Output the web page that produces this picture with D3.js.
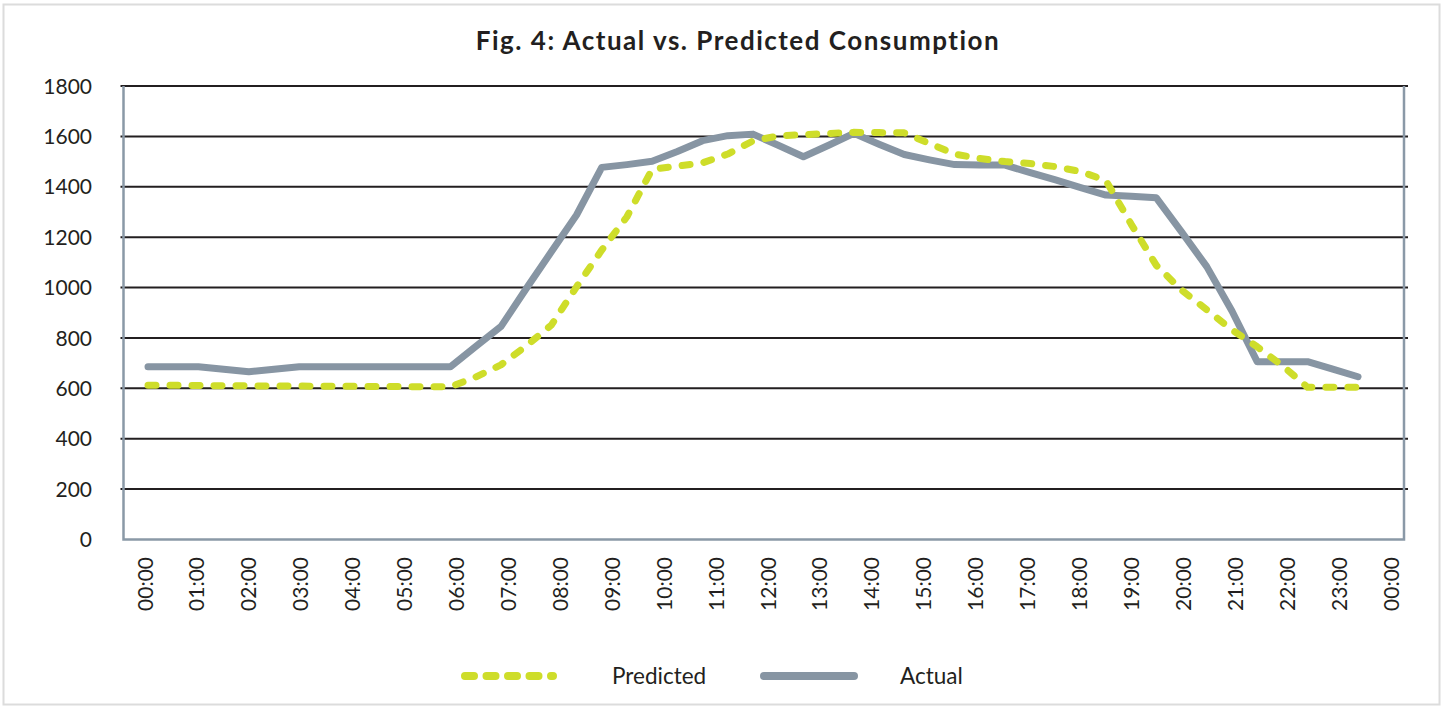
<!DOCTYPE html>
<html>
<head>
<meta charset="utf-8">
<script src="https://cdn.jsdelivr.net/npm/d3@7"></script>
<style>
  body { margin: 0; background: #fff; }
  text { font-family: Lato, "Open Sans", sans-serif; fill: #231f20; }
</style>
</head>
<body>
<svg></svg>
<script>
// half-hourly readings
let times = ["00:00","00:30","01:00","01:30","02:00","02:30","03:00","03:30","04:00","04:30",
    "05:00","05:30","06:00","06:30","07:00","07:30","08:00","08:30","09:00","09:30",
    "10:00","10:30","11:00","11:30","12:00","12:30","13:00","13:30","14:00","14:30",
    "15:00","15:30","16:00","16:30","17:00","17:30","18:00","18:30","19:00","19:30",
    "20:00","20:30","21:00","21:30","22:00","22:30","23:00","23:30","24:00"];

let actual = [686, 686, 686, 676, 666, 676, 686, 686, 686, 686,
    686, 686, 686, 766, 845, 995, 1142, 1288, 1477, 1488,
    1501, 1540, 1583, 1603, 1609, 1565, 1519, 1565, 1612, 1569,
    1528, 1507, 1488, 1486, 1486, 1456, 1427, 1397, 1367, 1362,
    1356, 1221, 1083, 907, 706, 706, 706, 676, 646];

let predicted = [612, 612, 611, 610, 610, 609, 609, 608, 608, 607,
    607, 606, 606, 645, 693, 768, 851, 1003, 1149, 1281,
    1470, 1482, 1495, 1530, 1582, 1602, 1607, 1611, 1616, 1615,
    1614, 1572, 1530, 1512, 1500, 1492, 1480, 1460, 1425, 1252,
    1088, 990, 912, 832, 765, 690, 604, 604, 604];

let tickLabels = ["00:00","01:00","02:00","03:00","04:00","05:00","06:00","07:00","08:00",
    "09:00","10:00","11:00","12:00","13:00","14:00","15:00","16:00","17:00","18:00",
    "19:00","20:00","21:00","22:00","23:00","00:00"];

let yTicks = [0, 200, 400, 600, 800, 1000, 1200, 1400, 1600, 1800];

let svg = d3.select("svg").attr("width", 1448).attr("height", 709);

const axisGrey = "#8a99a7";
const actualColor = "#8795a3";
const predColor = "#cedd2a";

// outer frame
svg.append("rect")
    .attr("x", 3.5).attr("y", 4.5)
    .attr("width", 1436).attr("height", 700)
    .attr("fill", "#fff")
    .attr("stroke", "#dcdcdc")
    .attr("stroke-width", 2);

let plotL = 123.5, plotR = 1404, plotT = 86, plotB = 539.5;

let y = d3.scaleLinear().domain([0, 1800]).range([plotB, plotT]);
let x = d3.scalePoint().domain(times).range([148, 1358]);
let xLab = d3.scalePoint().domain(d3.range(tickLabels.length)).range([145, 1391]);

// gridlines
svg.append("g")
    .selectAll("line")
    .data(yTicks.filter(d => d > 0))
    .join("line")
    .attr("x1", plotL - 3).attr("x2", plotR + 4)
    .attr("y1", d => y(d)).attr("y2", d => y(d))
    .style("stroke", "#231f20")
    .style("stroke-width", 2);

// plot frame (left, bottom, right)
svg.append("path")
    .attr("d", `M ${plotL} ${plotT} L ${plotL} ${plotB} L ${plotR} ${plotB} L ${plotR} ${plotT}`)
    .attr("fill", "none")
    .style("stroke", axisGrey)
    .style("stroke-width", 2.5);

// y labels
svg.append("g")
    .selectAll("text")
    .data(yTicks)
    .join("text")
    .attr("x", 92)
    .attr("y", d => y(d))
    .attr("dy", "0.36em")
    .attr("text-anchor", "end")
    .style("font-size", "21px")
    .text(d => d);

// x labels
svg.append("g")
    .selectAll("text")
    .data(tickLabels)
    .join("text")
    .attr("transform", (d, i) => `translate(${xLab(i)},557) rotate(-90)`)
    .attr("dy", "0.36em")
    .attr("text-anchor", "end")
    .style("font-size", "21px")
    .text(d => d);

let line = d3.line()
    .x((d, i) => x(times[i]))
    .y(d => y(d));

svg.append("path")
    .attr("d", line(actual))
    .attr("fill", "none")
    .style("stroke", actualColor)
    .style("stroke-width", 7)
    .style("stroke-linejoin", "round")
    .style("stroke-linecap", "round");

svg.append("path")
    .attr("d", line(predicted))
    .attr("fill", "none")
    .style("stroke", predColor)
    .style("stroke-width", 7)
    .style("stroke-dasharray", "8,14")
    .style("stroke-linejoin", "round")
    .style("stroke-linecap", "round");

// title
svg.append("text")
    .attr("x", 738).attr("y", 50)
    .attr("text-anchor", "middle")
    .style("font-size", "26px")
    .style("font-weight", "bold")
    .style("letter-spacing", "1.5px")
    .text("Fig. 4: Actual vs. Predicted Consumption");

// legend
let legend = svg.append("g");
legend.append("line")
    .attr("x1", 465).attr("x2", 553).attr("y1", 676).attr("y2", 676)
    .style("stroke", predColor).style("stroke-width", 8)
    .style("stroke-dasharray", "9,12.5").style("stroke-linecap", "round");
legend.append("text")
    .attr("x", 612).attr("y", 676).attr("dy", "0.36em")
    .style("font-size", "22.5px")
    .text("Predicted");
legend.append("line")
    .attr("x1", 764).attr("x2", 854).attr("y1", 676).attr("y2", 676)
    .style("stroke", actualColor).style("stroke-width", 8)
    .style("stroke-linecap", "round");
legend.append("text")
    .attr("x", 900).attr("y", 676).attr("dy", "0.36em")
    .style("font-size", "22.5px")
    .text("Actual");
</script>
</body>
</html>
